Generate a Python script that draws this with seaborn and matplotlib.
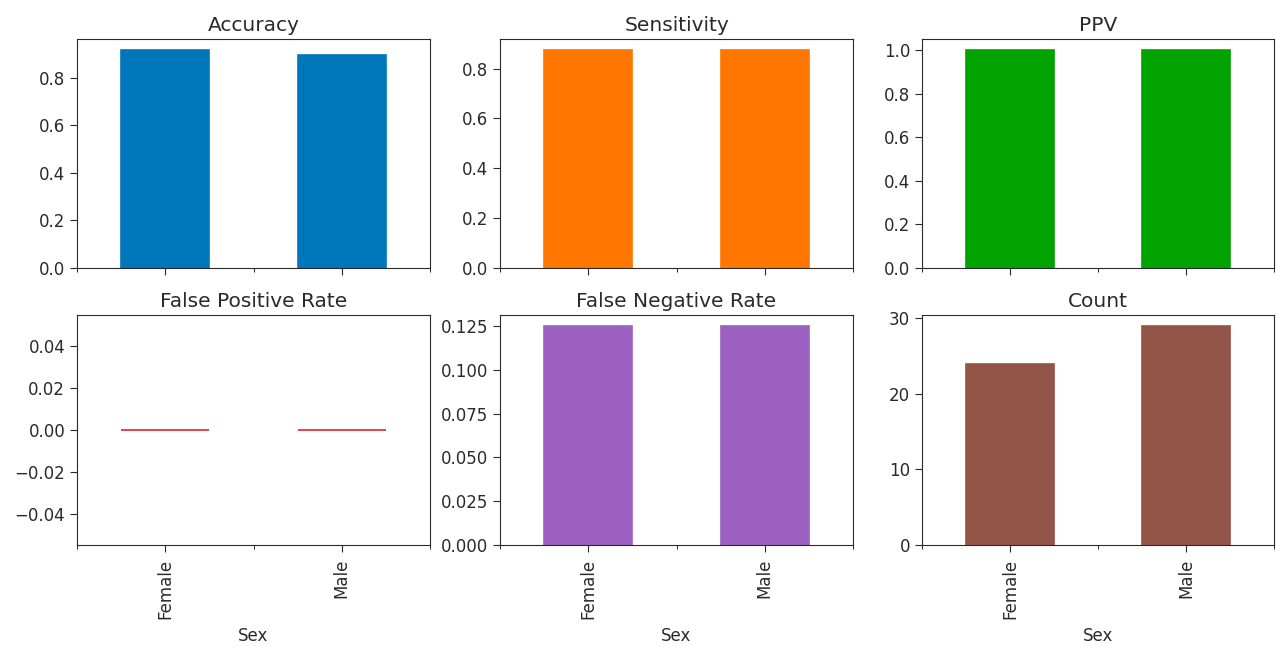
import matplotlib
matplotlib.use("Agg")
import matplotlib.pyplot as plt
import seaborn as sns
import pandas as pd
from matplotlib.ticker import FixedLocator

groups = ["Female", "Male"]
accuracy = [0.9167, 0.8966]
sensitivity = [0.875, 0.875]
ppv = [1.0, 1.0]
false_positive_rate = [0.0, 0.0]
false_negative_rate = [0.125, 0.125]
count = [24, 29]

titles = ["Accuracy", "Sensitivity", "PPV", "False Positive Rate", "False Negative Rate", "Count"]
series = [accuracy, sensitivity, ppv, false_positive_rate, false_negative_rate, count]
colors = ["#0077bb", "#ff7700", "#00a300", "#e0222c", "#9b60c0", "#945549"]

plt.rcParams["font.family"] = ["DejaVu Sans"]

fig = plt.figure(figsize=(12.76, 6.47), dpi=100)
lefts = [77 / 1276, 500 / 1276, 922 / 1276]
widths = [353 / 1276, 353 / 1276, 352 / 1276]
bottoms = [1 - 268 / 647, 1 - 545 / 647]
heights = [229 / 647, 230 / 647]

for i, (title, vals, col) in enumerate(zip(titles, series, colors)):
    r, c = divmod(i, 3)
    ax = fig.add_axes([lefts[c], bottoms[r], widths[c], heights[r]])
    df = pd.DataFrame({"Sex": groups, "value": vals})
    sns.barplot(data=df, x="Sex", y="value", color=col, saturation=1, width=0.5,
                ax=ax, edgecolor=col, linewidth=1.2)
    ax.set_xlim(-0.5, 1.5)
    ax.set_title(title, fontsize=14.5, color="#2a2a2a")
    ax.set_ylabel("")
    ax.tick_params(axis="both", labelsize=12, colors="#2a2a2a", length=5)
    ax.tick_params(axis="x", pad=5)
    ax.xaxis.set_minor_locator(FixedLocator([-0.5, 0.5, 1.5]))
    ax.tick_params(axis="x", which="minor", length=3)
    if title == "False Positive Rate":
        ax.set_ylim(-0.055, 0.055)
    for s in ax.spines.values():
        s.set_color("#2a2a2a")
    if r == 0:
        ax.set_xlabel("")
        ax.set_xticklabels([])
    else:
        ax.set_xlabel("Sex", fontsize=12, color="#2a2a2a", labelpad=6)
        ax.set_xticks([0, 1])
        ax.set_xticklabels(groups, rotation=90)

fig.savefig("out.png", dpi=100)
